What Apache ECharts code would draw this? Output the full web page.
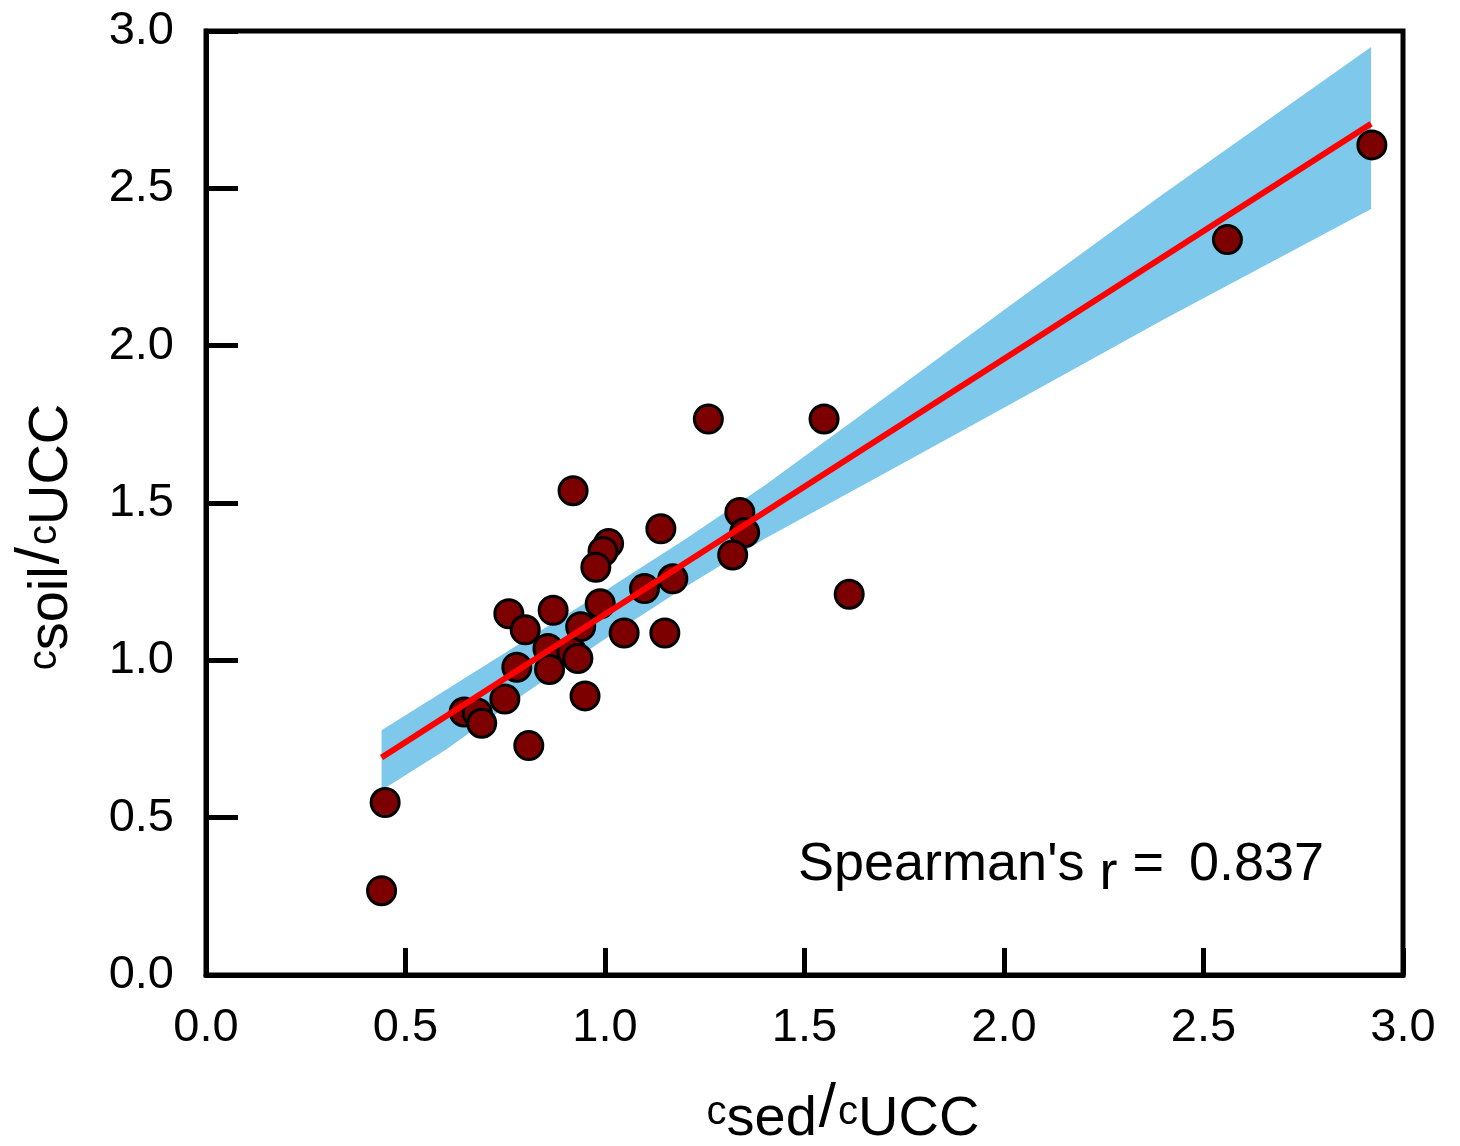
<!DOCTYPE html>
<html><head><meta charset="utf-8">
<script src="https://cdn.jsdelivr.net/npm/echarts@6/dist/echarts.min.js"></script>
<style>html,body{margin:0;padding:0;background:#fff}#c{width:1460px;height:1146px}</style>
</head><body><div id="c"></div>
<script>
// c_sed / c_UCC (x) and c_soil / c_UCC (y)
const sedRatio = [2.922, 2.560, 1.259, 1.549, 0.920, 1.140, 1.338, 1.350, 1.320, 1.009, 0.995, 0.977, 1.612, 1.099, 1.170, 0.988, 0.759, 0.870, 0.800, 0.939, 1.048, 1.150, 0.857, 0.917, 0.932, 0.779, 0.861, 0.950, 0.749, 0.647, 0.680, 0.691, 0.809, 0.449, 0.440];
const soilRatio = [2.638, 2.337, 1.767, 1.767, 1.539, 1.418, 1.470, 1.406, 1.335, 1.371, 1.346, 1.296, 1.210, 1.228, 1.259, 1.180, 1.148, 1.159, 1.097, 1.107, 1.087, 1.087, 1.038, 1.026, 1.006, 0.978, 0.971, 0.887, 0.877, 0.836, 0.833, 0.800, 0.729, 0.548, 0.268];
// regression line end points
const fitX = [0.44, 2.92];
const fitY = [0.691, 2.705];
// confidence band
const bandX = [0.44, 0.6, 0.8, 1.0, 1.2, 1.4, 1.7, 2.0, 2.4, 2.92];
const bandLow = [0.587, 0.715, 0.895, 1.068, 1.232, 1.386, 1.594, 1.803, 2.083, 2.434];
const bandHigh = [0.778, 0.905, 1.064, 1.221, 1.384, 1.556, 1.834, 2.113, 2.483, 2.949];
const axisMin = 0, axisMax = 3, axisStep = 0.5;

const FONT = '"Liberation Sans", Arial, sans-serif';
const chart = echarts.init(document.getElementById('c'), null, {renderer: 'canvas'});

const titleRich = {
  c: {fontFamily: FONT, fontSize: 40, color: '#000', lineHeight: 60, verticalAlign: 'bottom', padding: [0, 0, 15, 0]},
  s: {fontFamily: FONT, fontSize: 56, color: '#000', lineHeight: 60, verticalAlign: 'bottom'},
  sl: {fontFamily: FONT, fontSize: 62, color: '#000', lineHeight: 66, verticalAlign: 'bottom', padding: [0, 2, 8, 2]}
};

const option = {
  animation: false,
  backgroundColor: '#fff',
  grid: {left: 206, right: 57, top: 31, bottom: 171, show: true, borderColor: '#000', borderWidth: 5, backgroundColor: 'transparent'},
  xAxis: {
    type: 'value', min: axisMin, max: axisMax, interval: axisStep,
    axisLine: {show: true, lineStyle: {color: '#000', width: 5}},
    axisTick: {show: true, inside: true, length: 27, lineStyle: {color: '#000', width: 5}},
    splitLine: {show: false},
    axisLabel: {color: '#000', fontSize: 47, fontFamily: FONT, margin: 30, formatter: v => v.toFixed(1)}
  },
  yAxis: {
    type: 'value', min: axisMin, max: axisMax, interval: axisStep,
    axisLine: {show: true, lineStyle: {color: '#000', width: 5}},
    axisTick: {show: true, inside: true, length: 32, lineStyle: {color: '#000', width: 5}},
    splitLine: {show: false},
    axisLabel: {color: '#000', fontSize: 47, fontFamily: FONT, margin: 32, formatter: v => v.toFixed(1)}
  },
  series: [
    {
      type: 'custom', z: 1, silent: true,
      data: bandX.map((x, i) => [x, bandLow[i], bandHigh[i]]),
      encode: {x: 0, y: [1, 2]},
      renderItem: function (params, api) {
        if (params.dataIndex !== 0) return null;
        const pts = [];
        for (let i = 0; i < bandX.length; i++) pts.push(api.coord([bandX[i], bandHigh[i]]));
        for (let i = bandX.length - 1; i >= 0; i--) pts.push(api.coord([bandX[i], bandLow[i]]));
        return {type: 'polygon', shape: {points: pts}, style: {fill: '#7ec8ec'}};
      }
    },
    {
      type: 'scatter', z: 3,
      data: sedRatio.map((x, i) => [x, soilRatio[i]]),
      symbol: 'circle', symbolSize: 28,
      itemStyle: {color: '#7d0000', borderColor: '#000', borderWidth: 3, opacity: 1}
    },
    {
      type: 'line', z: 4, showSymbol: false, symbol: 'none',
      data: fitX.map((x, i) => [x, fitY[i]]),
      lineStyle: {color: '#ff0000', width: 6}
    }
  ],
  graphic: [
    {
      type: 'text', x: 843, y: 1115,
      style: {
        text: '{c|c}{s|sed}{sl|/}{c|c}{s|UCC}',
        rich: titleRich, align: 'center', verticalAlign: 'middle'
      }
    },
    {
      type: 'text', x: 47, y: 537, rotation: Math.PI / 2,
      style: {
        text: '{c|c}{s|soil}{sl|/}{c|c}{s|UCC}',
        rich: titleRich, align: 'center', verticalAlign: 'middle'
      }
    },
    {
      type: 'text', x: 798, y: 872,
      style: {
        text: "{a|Spearman's }{r|r}{a| = }{b|0.837}",
        rich: {
          a: {fontFamily: FONT, fontSize: 54, color: '#000', lineHeight: 58, verticalAlign: 'bottom', padding: [0, 0, 9, 0]},
          b: {fontFamily: FONT, fontSize: 54, color: '#000', lineHeight: 58, verticalAlign: 'bottom', padding: [0, 0, 9, 10]},
          r: {fontFamily: FONT, fontSize: 54, color: '#000', lineHeight: 58, verticalAlign: 'bottom'}
        },
        align: 'left', verticalAlign: 'middle'
      }
    }
  ]
};
chart.setOption(option);
</script>
</body></html>
